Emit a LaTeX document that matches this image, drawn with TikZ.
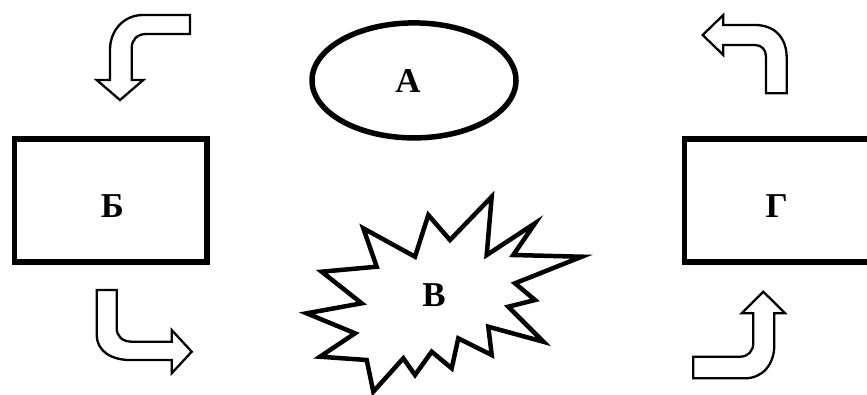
\documentclass[tikz,border=0pt]{standalone}
\usepackage{fontspec}
\setmainfont{Liberation Serif}
\usetikzlibrary{shapes.geometric}
\newcommand{\lblfont}{\bfseries\fontsize{35}{40}\selectfont}
\tikzset{
  lbl/.style={font=\lblfont, inner sep=0pt},
  boxshape/.style={draw, line width=5.5bp, rectangle, minimum width=192.5bp, minimum height=123bp, inner sep=0pt},
  ellshape/.style={draw, line width=5.5bp, ellipse, minimum width=204bp, minimum height=115bp, inner sep=0pt},
  burst/.style={draw, line width=4.5bp, line join=miter, miter limit=10},
  bentarrow/.style={draw, line width=2.3bp, line join=miter, fill=white},
}
\begin{document}
\begin{tikzpicture}[x=1bp, y=-1bp]
\useasboundingbox (0,0) rectangle (867,394);
\clip (0,0) rectangle (867,394);
% ellipse A
\node[ellshape] (ea) at (414,80.4) {};
\node[lbl] (la) at (408,80.5) {А};
% boxes
\node[boxshape] (bb) at (110.75,200.5) {};
\node[lbl] (lb) at (112.5,206) {Б};
\node[boxshape] (bg) at (780.75,200.5) {};
\node[lbl] (lg) at (776.7,206.5) {Г};
% starburst
\draw[burst] (491.7,196.7) -- (486.7,255) -- (535,223.3) -- (513.3,255) -- (581.7,256.7) -- (515,283.3) -- (535,300) -- (508.3,306.7) -- (543.3,341.7) -- (488.3,326.7) -- (491.7,355) -- (458.3,338.3) -- (451.7,368.3) -- (431.7,351.7) -- (415,375) -- (403.3,358.3) -- (373.3,391.7) -- (366.7,360) -- (320,356.7) -- (355,333.3) -- (306.7,313.3) -- (361.7,303.3) -- (321.7,271.7) -- (376.7,266.7) -- (363.3,228.3) -- (415,256.7) -- (428.3,215) -- (450,240) -- cycle;
\node[lbl] (lv) at (434,295) {В};
% bent arrow top-left
\draw[bentarrow] (190,15) -- (143,15) .. controls (124,15) and (110,30) .. (110,50) -- (110,80) -- (96.7,80) -- (120,100) -- (143.3,80) -- (131.7,80) -- (131.7,48) .. controls (131.7,40) and (137,34) .. (146,34) -- (190,34) -- cycle;
% bent arrow bottom-left
\draw[bentarrow] (96.7,290) -- (96.7,335) .. controls (96.7,350) and (110,360) .. (130,360) -- (171.7,360) -- (171.7,373.3) -- (191.7,351.7) -- (171.7,330) -- (171.7,341.7) -- (132,341.7) .. controls (122,341.7) and (116.7,336) .. (116.7,328) -- (116.7,290) -- cycle;
% bent arrow top-right
\draw[bentarrow] (723.3,15) -- (702.7,35) -- (723.3,55) -- (723.3,45) -- (755,45) .. controls (762,45) and (766,50) .. (766,57) -- (766,93.3) -- (786.7,93.3) -- (786.7,58) .. controls (786.7,38) and (775,25) .. (755,25) -- (723.3,25) -- cycle;
% bent arrow bottom-right
\draw[bentarrow] (741.7,313.3) -- (763.3,291.7) -- (785,313.3) -- (774.3,313.3) -- (774.3,345) .. controls (774.3,365) and (762,378.3) .. (745,378.3) -- (693.3,378.3) -- (693.3,356.7) -- (740,356.7) .. controls (748,356.7) and (753.3,351) .. (753.3,343) -- (753.3,313.3) -- cycle;
\end{tikzpicture}
\end{document}
